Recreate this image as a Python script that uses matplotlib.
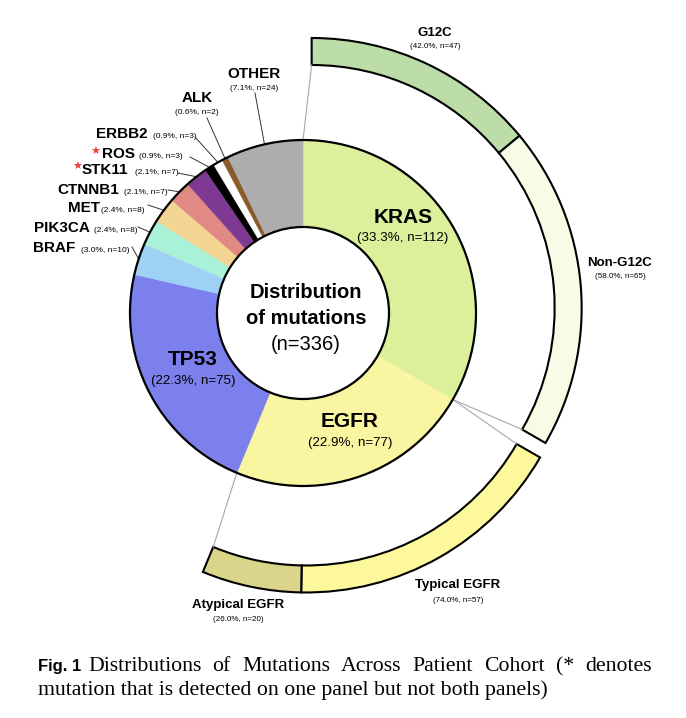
import numpy as np
import matplotlib
matplotlib.use("Agg")
import matplotlib.pyplot as plt
from matplotlib.patches import Circle

# ---------------- data ----------------
genes = ["KRAS", "EGFR", "TP53", "BRAF", "PIK3CA", "MET", "CTNNB1",
         "STK11", "ROS", "ERBB2", "ALK", "OTHER"]
counts = [112, 77, 75, 10, 8, 8, 7, 7, 3, 3, 2, 24]
pcts = [33.3, 22.9, 22.3, 3.0, 2.4, 2.4, 2.1, 2.1, 0.9, 0.9, 0.6, 7.1]
starred = ["ROS", "STK11"]
total_n = 336

kras_sub = ["G12C", "Non-G12C"]
kras_sub_counts = [47, 65]
kras_sub_pcts = [42.0, 58.0]

egfr_sub = ["Typical EGFR", "Atypical EGFR"]
egfr_sub_counts = [57, 20]
egfr_sub_pcts = [74.0, 26.0]

center_title = ["Distribution", "of mutations"]
caption_bold = "Fig. 1"
caption_line1 = "Distributions of Mutations Across Patient Cohort (* denotes"
caption_line2 = "mutation that is detected on one panel but not both panels)"

# ---------------- styles ----------------
gene_colors = ["#DCEF9B", "#F9F5A0", "#7B80EC", "#9FD1F5", "#AAF2D7",
               "#F3D593", "#E08A83", "#7E3A92", "#000000", "#FFFFFF",
               "#8B5A2B", "#ADADAD"]
kras_sub_colors = ["#BCDCA8", "#F7FCE6"]
egfr_sub_colors = ["#FCF89B", "#DAD58B"]

W, H = 686, 718


def Y(y):
    return H - y


C = np.array([303.0, Y(313)])
R1, R0 = 173.0, 86.0
R_out, W_out = 270.0, 27.0
R_in_out = R_out - W_out
shift = 10.0


def pt(c, r, ang):
    a = np.deg2rad(ang)
    return np.array([c[0] + r * np.cos(a), c[1] + r * np.sin(a)])


fig = plt.figure(figsize=(W / 100, H / 100), dpi=100)
ax = fig.add_axes([0, 0, 1, 1])

# inner donut
wedges, _ = ax.pie(counts, colors=gene_colors, startangle=90, counterclock=False,
                   radius=R1, center=tuple(C), frame=True,
                   wedgeprops=dict(width=R1 - R0, linewidth=0.4))
for w in wedges:
    w.set_edgecolor(w.get_facecolor())
ax.add_patch(Circle(tuple(C), R1, fill=False, ec="black", lw=1.6, zorder=5))
ax.add_patch(Circle(tuple(C), R0, fill=False, ec="black", lw=1.6, zorder=5))

# boundary angles (math degrees)
cum = np.concatenate([[0], np.cumsum(counts)])
bounds = 90 - 360 * cum / total_n
mids = (bounds[:-1] + bounds[1:]) / 2

# outer rings
k_mid = mids[0]
ck = C + shift * np.array([np.cos(np.deg2rad(k_mid)), np.sin(np.deg2rad(k_mid))])
ax.pie(np.array(kras_sub_counts) / total_n, normalize=False, colors=kras_sub_colors,
       startangle=bounds[0], counterclock=False, radius=R_out, center=tuple(ck),
       frame=True, wedgeprops=dict(width=W_out, edgecolor="black", linewidth=1.5))

e_mid = mids[1]
ce = C + shift * np.array([np.cos(np.deg2rad(e_mid)), np.sin(np.deg2rad(e_mid))])
ax.pie(np.array(egfr_sub_counts) / total_n, normalize=False, colors=egfr_sub_colors,
       startangle=bounds[1], counterclock=False, radius=R_out, center=tuple(ce),
       frame=True, wedgeprops=dict(width=W_out, edgecolor="black", linewidth=1.5))

# connectors
conn = [(pt(C, R1, bounds[0]), pt(ck, R_in_out, bounds[0])),
        (pt(C, R1, bounds[1]), pt(ck, R_in_out, bounds[1])),
        (pt(C, R1, bounds[1]), pt(ce, R_in_out, bounds[1])),
        (pt(C, R1, bounds[2]), pt(ce, R_in_out, bounds[2]))]
for a, b in conn:
    ax.plot([a[0], b[0]], [a[1], b[1]], color="#A8A8A8", lw=0.8, zorder=1)

SANS = ["Liberation Sans", "DejaVu Sans"]


def sub_txt(p, n):
    return f"({p:.1f}%, n={n})"


# big labels inside donut
big_pos = {"KRAS": (403, 223, 241), "EGFR": (350, 427, 446), "TP53": (193, 365, 384)}
for g, (x, yb, ys) in big_pos.items():
    i = genes.index(g)
    ax.text(x, Y(yb), g, ha="center", va="baseline", fontsize=15,
            fontweight="bold", family=SANS, zorder=6)
    ax.text(x, Y(ys), sub_txt(pcts[i], counts[i]), ha="center", va="baseline",
            fontsize=9.6, family=SANS, zorder=6)

# center
ax.text(C[0] + 3, Y(298), center_title[0], ha="center", va="baseline",
        fontsize=14.5, fontweight="bold", family=SANS, zorder=6)
ax.text(C[0] + 3, Y(323.5), center_title[1], ha="center", va="baseline",
        fontsize=14.5, fontweight="bold", family=SANS, zorder=6)
ax.text(C[0] + 3, Y(350), f"(n={total_n})", ha="center", va="baseline",
        fontsize=14.5, family=SANS, zorder=6)

# left labels: name right edge x, sub left x, baseline y, line start (x, y)
left_pos = {
    "ERBB2": (148, 153, 138.5, (195, 137)),
    "ROS": (135, 139, 157.5, (190, 157)),
    "STK11": (128, 135, 174.5, (178, 173)),
    "CTNNB1": (119, 124, 193.5, (168, 190)),
    "MET": (100, 101, 212.5, (148, 205)),
    "PIK3CA": (90, 94, 232.5, (138, 227)),
    "BRAF": (75, 81, 251.5, (132, 247)),
}
for g, (xr, xs, yb, ls) in left_pos.items():
    i = genes.index(g)
    ax.text(xr, Y(yb), g, ha="right", va="baseline", fontsize=11,
            fontweight="bold", family=SANS)
    ax.text(xs, Y(yb), sub_txt(pcts[i], counts[i]), ha="left", va="baseline",
            fontsize=6, family=SANS)
    e = pt(C, R1, mids[i])
    ax.plot([ls[0], e[0]], [Y(ls[1]), e[1]], color="#333333", lw=0.7, zorder=4)

star_pos = {"ROS": (95, 152), "STK11": (77, 167)}
for g in starred:
    x, y = star_pos[g]
    ax.text(x, Y(y), "\u2605", ha="center", va="center", fontsize=8,
            color="#E8403A", family=["DejaVu Sans"])

# top labels
top_pos = {"ALK": (197, 101.5, 114, (207, 118)), "OTHER": (254, 77.5, 89.5, (255, 93))}
for g, (x, yb, ys, ls) in top_pos.items():
    i = genes.index(g)
    ax.text(x, Y(yb), g, ha="center", va="baseline", fontsize=11,
            fontweight="bold", family=SANS)
    ax.text(x, Y(ys), sub_txt(pcts[i], counts[i]), ha="center", va="baseline",
            fontsize=6, family=SANS)
    e = pt(C, R1, mids[i])
    ax.plot([ls[0], e[0]], [Y(ls[1]), e[1]], color="#333333", lw=0.7, zorder=4)

# outer ring labels
outer_pos = {"G12C": (435, 35.7, 48), "Non-G12C": (620, 265.7, 278),
             "Typical EGFR": (458, 588, 601.5), "Atypical EGFR": (238, 608, 621)}
sub_names = kras_sub + egfr_sub
sub_counts = kras_sub_counts + egfr_sub_counts
sub_pcts = kras_sub_pcts + egfr_sub_pcts
for k, name in enumerate(sub_names):
    x, yb, ys = outer_pos[name]
    ax.text(x, Y(yb), name, ha="center", va="baseline", fontsize=9.5,
            fontweight="bold", family=SANS)
    ax.text(x, Y(ys), sub_txt(sub_pcts[k], sub_counts[k]), ha="center",
            va="baseline", fontsize=5.8, family=SANS)

ax.set_xlim(0, W)
ax.set_ylim(0, H)
ax.set_aspect("equal")
ax.axis("off")

# caption (justified first line)
SERIF = ["Liberation Serif", "DejaVu Serif"]
fig.canvas.draw()
rend = fig.canvas.get_renderer()


def width_of(t):
    bb = t.get_window_extent(renderer=rend)
    return bb.width


probe = ax.text(0, 0, caption_line2, fontsize=10, family=SERIF)
fs = 10 * 510.0 / width_of(probe)
probe.remove()

ax.text(38, Y(671), caption_bold, ha="left", va="baseline", fontsize=12,
        fontweight="bold", family=SANS)
words = caption_line1.split()
wts = [ax.text(0, Y(671), w, ha="left", va="baseline", fontsize=fs, family=SERIF)
       for w in words]
ws = [width_of(t) for t in wts]
x0, x1 = 88.0, 652.0
gap = (x1 - x0 - sum(ws)) / (len(words) - 1)
x = x0
for t, w in zip(wts, ws):
    t.set_x(x)
    x += w + gap
ax.text(38, Y(695), caption_line2, ha="left", va="baseline", fontsize=fs,
        family=SERIF)

fig.savefig("out.png", dpi=100, facecolor="white")
